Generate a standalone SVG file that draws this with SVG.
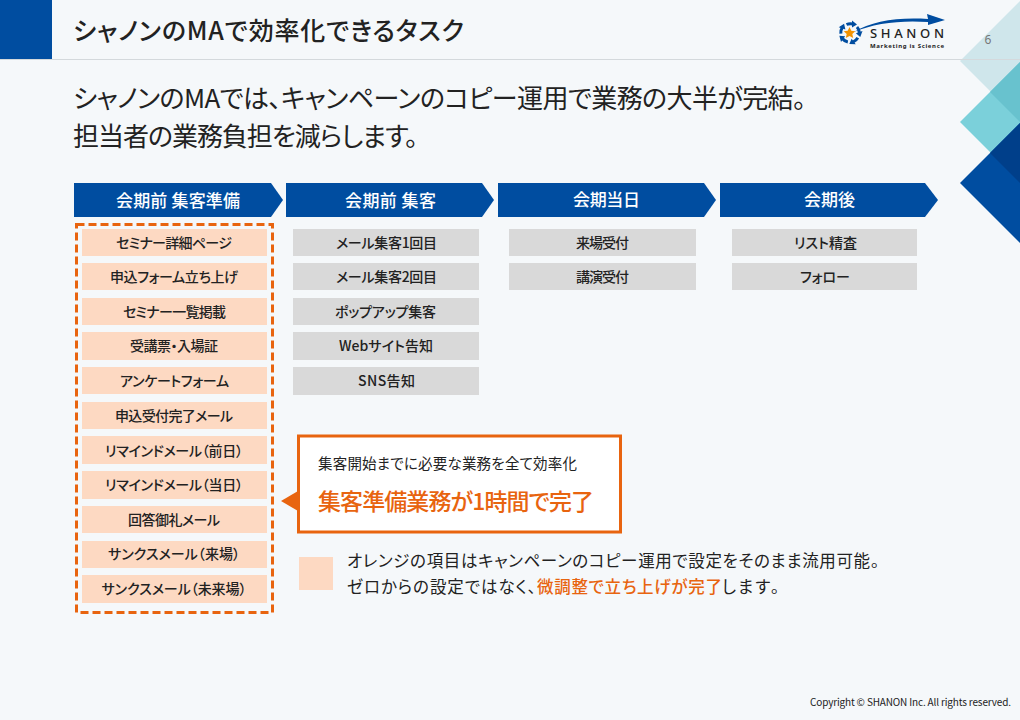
<svg xmlns="http://www.w3.org/2000/svg" width="1020" height="720" viewBox="0 0 1020 720">
<defs>
<g id="ringpart"><path d="M-3.500 -8.500 A9.500 9.500 0 0 1 3 -9" fill="none" stroke="#004DA0" stroke-width="3"/><polygon points="2,-12.500 7,-8.500 2,-5.500" fill="#004DA0"/></g>
</defs>
<style>
text{font-family:"Noto Sans CJK JP","Noto Sans",sans-serif;fill:#222;font-feature-settings:"palt"}
.h{fill:#004DA0}
.ht{fill:#fff;font-size:17px;font-weight:500;text-anchor:middle}
.o{fill:#FDD9C2}
.g{fill:#D9D9D9}
.t{font-size:14px;font-weight:500;text-anchor:middle}
.lead{font-size:26px;font-weight:400}
.leg{font-size:16.500px}
.or{fill:#E8640F}
</style>
<rect width="1020" height="720" fill="#F5F8FA"/>
<g id="decor">
<polygon points="960,61 1020,1 1020,121" fill="#CFE6EB"/>
<polygon points="960,122 1020,62 1020,182" fill="#7BD0DA"/>
<polygon points="990,92 1020,62 1020,122" fill="#68C2CE"/>
<polygon points="960,183 1020,123 1020,243" fill="#004DA0"/>
<polygon points="990,153 1020,123 1020,183" fill="#003F8A"/>
</g>
<g id="header">
<rect x="0" y="59" width="1020" height="1" fill="#D4D9DC"/>
<rect x="0" y="0" width="52" height="59" fill="#004DA0"/>
<text x="73" y="40" font-size="25" font-weight="500" textLength="391">シャノンのMAで効率化できるタスク</text>
<text x="988" y="44" font-size="12" text-anchor="middle" style="fill:#777;font-family:'Noto Sans',sans-serif">6</text>
</g>
<g id="logo">
<path d="M854 32 C872 21 898 17 928 19 L927 14 L945 20 L928 25 L928 22 C902 20 874 23 854 32Z" fill="#004DA0"/>
<use href="#ringpart" transform="translate(850 33)"/>
<use href="#ringpart" transform="translate(850 33) rotate(72)"/>
<use href="#ringpart" transform="translate(850 33) rotate(144)"/>
<use href="#ringpart" transform="translate(850 33) rotate(216)"/>
<use href="#ringpart" transform="translate(850 33) rotate(288)"/>
<polygon points="849.500,27 851.300,30.800 855.300,31.300 852.300,34 853.200,38 849.500,36 845.800,38 846.700,34 843.700,31.300 847.700,30.800" fill="#F39200"/>
<text x="870" y="38" font-size="13" font-weight="500" textLength="74" style="font-family:'Noto Sans',sans-serif">SHANON</text>
<text x="870" y="47.500" font-size="6" font-weight="700" textLength="74" style="font-family:'Noto Sans',sans-serif">Marketing is Science</text>
</g>
<g id="lead">
<text class="lead" x="73" y="108" textLength="733">シャノンのMAでは、キャンペーンのコピー運用で業務の大半が完結。</text>
<text class="lead" x="73" y="146" textLength="345">担当者の業務負担を減らします。</text>
</g>
<g id="phases">
<g id="phase1"><polygon class="h" points="74,183 271,183 283,200 271,217 74,217"/><text class="ht" x="178" y="207" textLength="124">会期前 集客準備</text></g>
<g id="phase2"><polygon class="h" points="286,183 482,183 494,200 482,217 286,217"/><text class="ht" x="390.500" y="207" textLength="91">会期前 集客</text></g>
<g id="phase3"><polygon class="h" points="498,183 704,183 716,200 704,217 498,217"/><text class="ht" x="606.500" y="206" textLength="67">会期当日</text></g>
<g id="phase4"><polygon class="h" points="720,183 925,183 938,200 925,217 720,217"/><text class="ht" x="829.500" y="206" textLength="51">会期後</text></g>
</g>
<g id="prep">
<rect x="76.500" y="224.500" width="196" height="388" fill="none" stroke="#E8640F" stroke-width="3" stroke-dasharray="8 4"/>
<g id="o1"><rect class="o" x="82" y="229" width="185" height="27"/><text class="t" x="174" y="248" textLength="116">セミナー詳細ページ</text></g>
<g id="o2"><rect class="o" x="82" y="263" width="185" height="27"/><text class="t" x="174" y="282" textLength="128">申込フォーム立ち上げ</text></g>
<g id="o3"><rect class="o" x="82" y="298" width="185" height="27"/><text class="t" x="174.500" y="317" textLength="103">セミナー一覧掲載</text></g>
<g id="o4"><rect class="o" x="82" y="332" width="185" height="28"/><text class="t" x="174" y="351" textLength="88">受講票・入場証</text></g>
<g id="o5"><rect class="o" x="82" y="367" width="185" height="27"/><text class="t" x="174.500" y="386" textLength="109">アンケートフォーム</text></g>
<g id="o6"><rect class="o" x="82" y="402" width="185" height="27"/><text class="t" x="174" y="421" textLength="118">申込受付完了メール</text></g>
<g id="o7"><rect class="o" x="82" y="436" width="185" height="28"/><text class="t" x="174" y="456" textLength="138">リマインドメール（前日）</text></g>
<g id="o8"><rect class="o" x="82" y="471" width="185" height="28"/><text class="t" x="174" y="490" textLength="138">リマインドメール（当日）</text></g>
<g id="o9"><rect class="o" x="82" y="506" width="185" height="27"/><text class="t" x="174" y="525" textLength="92">回答御礼メール</text></g>
<g id="o10"><rect class="o" x="82" y="541" width="185" height="27"/><text class="t" x="174" y="559" textLength="132">サンクスメール（来場）</text></g>
<g id="o11"><rect class="o" x="82" y="575" width="185" height="28"/><text class="t" x="174" y="594" textLength="145">サンクスメール（未来場）</text></g>
</g>
<g id="collect">
<g id="g1"><rect class="g" x="293" y="229" width="186" height="27"/><text class="t" x="386.500" y="248" textLength="101">メール集客1回目</text></g>
<g id="g2"><rect class="g" x="293" y="263" width="186" height="27"/><text class="t" x="386.500" y="282" textLength="101">メール集客2回目</text></g>
<g id="g3"><rect class="g" x="293" y="298" width="186" height="27"/><text class="t" x="385.500" y="317" textLength="101">ポップアップ集客</text></g>
<g id="g4"><rect class="g" x="293" y="332" width="186" height="28"/><text class="t" x="386" y="351" textLength="94">Webサイト告知</text></g>
<g id="g5"><rect class="g" x="293" y="367" width="186" height="28"/><text class="t" x="386.500" y="386" textLength="57">SNS告知</text></g>
</g>
<g id="day">
<g id="g6"><rect class="g" x="509" y="229" width="187" height="27"/><text class="t" x="602.500" y="248" textLength="53">来場受付</text></g>
<g id="g7"><rect class="g" x="509" y="263" width="187" height="27"/><text class="t" x="602.500" y="282" textLength="53">講演受付</text></g>
</g>
<g id="after">
<g id="g8"><rect class="g" x="732" y="229" width="185" height="27"/><text class="t" x="825.500" y="248" textLength="63">リスト精査</text></g>
<g id="g9"><rect class="g" x="732" y="263" width="185" height="27"/><text class="t" x="825" y="282" textLength="50">フォロー</text></g>
</g>
<g id="callout">
<rect x="298.500" y="436" width="322" height="96" fill="#fff" stroke="#E8640F" stroke-width="3"/>
<polygon points="281,501 298,491 298,511" fill="#E8640F"/>
<text x="318" y="469" font-size="14.500" textLength="259">集客開始までに必要な業務を全て効率化</text>
<text x="318" y="510" font-size="23" font-weight="500" class="or" textLength="276">集客準備業務が1時間で完了</text>
</g>
<g id="legend">
<rect class="o" x="299" y="557" width="34" height="33"/>
<text class="leg" x="347" y="567" textLength="532">オレンジの項目はキャンペーンのコピー運用で設定をそのまま流用可能。</text>
<text class="leg" x="347" y="593" textLength="189">ゼロからの設定ではなく、</text>
<text class="leg or" x="537" y="593" font-weight="500" textLength="185">微調整で立ち上げが完了</text>
<text class="leg" x="722" y="593" textLength="57">します。</text>
</g>
<text x="810" y="706" font-size="10" textLength="201">Copyright © SHANON Inc. All rights reserved.</text>
</svg>
